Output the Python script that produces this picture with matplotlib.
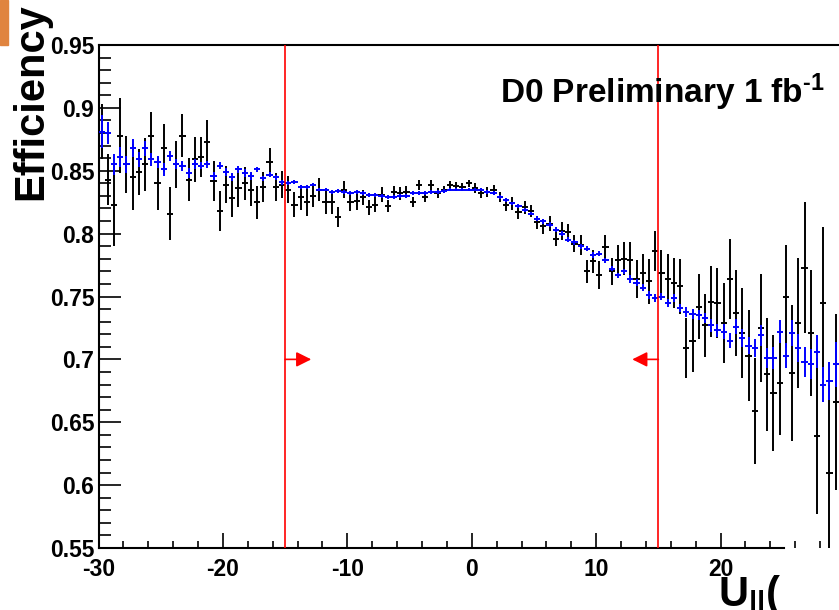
import numpy as np
import matplotlib
matplotlib.use("Agg")
import matplotlib.pyplot as plt
from matplotlib.patches import Rectangle

# ── Data (bins of 0.5 from -30 to 30) ─────────────────────────────────────────
bin_lo, bin_hi, bin_w = -30.0, 30.0, 0.5

eff_data = [
    0.881, 0.843, 0.823, 0.878, 0.855, 0.845, 0.849, 0.855, 0.878, 0.840,
    0.868, 0.816, 0.855, 0.878, 0.843, 0.859, 0.861, 0.873, 0.842, 0.818,
    0.839, 0.828, 0.836, 0.840, 0.835, 0.825, 0.837, 0.857, 0.837, 0.839,
    0.835, 0.823, 0.829, 0.825, 0.830, 0.835, 0.825, 0.825, 0.813, 0.835,
    0.825, 0.826, 0.829, 0.821, 0.823, 0.831, 0.822, 0.833, 0.832, 0.833,
    0.825, 0.839, 0.829, 0.839, 0.832, 0.835, 0.839, 0.838, 0.837, 0.840,
    0.836, 0.832, 0.833, 0.835, 0.829, 0.823, 0.824, 0.817, 0.821, 0.818,
    0.809, 0.806, 0.808, 0.796, 0.802, 0.801, 0.792, 0.791, 0.770, 0.778,
    0.767, 0.789, 0.770, 0.779, 0.780, 0.779, 0.764, 0.769, 0.762, 0.786,
    0.769, 0.764, 0.761, 0.758, 0.709, 0.715, 0.742, 0.727, 0.746, 0.745,
    0.729, 0.764, 0.737, 0.721, 0.703, 0.659, 0.725, 0.688, 0.673, 0.681,
    0.750, 0.689, 0.729, 0.773, 0.721, 0.639, 0.745, 0.610, 0.666, 0.574,
]
err_data = [
    0.022, 0.020, 0.033, 0.030, 0.023, 0.026, 0.018, 0.021, 0.019, 0.021,
    0.019, 0.021, 0.019, 0.017, 0.017, 0.018, 0.016, 0.017, 0.016, 0.016,
    0.015, 0.015, 0.015, 0.013, 0.013, 0.013, 0.012, 0.011, 0.011, 0.011,
    0.011, 0.010, 0.010, 0.011, 0.009, 0.009, 0.009, 0.009, 0.008, 0.007,
    0.007, 0.007, 0.006, 0.006, 0.006, 0.006, 0.005, 0.005, 0.005, 0.005,
    0.004, 0.004, 0.004, 0.004, 0.004, 0.003, 0.003, 0.003, 0.003, 0.003,
    0.004, 0.004, 0.004, 0.004, 0.004, 0.005, 0.005, 0.005, 0.005, 0.005,
    0.005, 0.006, 0.006, 0.006, 0.007, 0.007, 0.007, 0.008, 0.009, 0.009,
    0.011, 0.010, 0.011, 0.012, 0.013, 0.014, 0.015, 0.015, 0.018, 0.016,
    0.018, 0.020, 0.020, 0.022, 0.024, 0.025, 0.026, 0.025, 0.028, 0.028,
    0.032, 0.032, 0.034, 0.036, 0.036, 0.042, 0.043, 0.045, 0.046, 0.041,
    0.041, 0.054, 0.052, 0.052, 0.050, 0.062, 0.060, 0.070, 0.070, 0.060,
]
eff_mc = [
    0.881, 0.880, 0.855, 0.861, 0.855, 0.868, 0.859, 0.868, 0.859, 0.857,
    0.851, 0.862, 0.855, 0.854, 0.848, 0.855, 0.854, 0.855, 0.846, 0.854,
    0.849, 0.845, 0.851, 0.848, 0.846, 0.851, 0.844, 0.847, 0.845, 0.841,
    0.840, 0.841, 0.837, 0.837, 0.839, 0.835, 0.835, 0.833, 0.834, 0.833,
    0.832, 0.833, 0.832, 0.831, 0.831, 0.830, 0.829, 0.829, 0.830, 0.830,
    0.832, 0.832, 0.832, 0.833, 0.833, 0.834, 0.835, 0.835, 0.835, 0.835,
    0.835, 0.835, 0.833, 0.832, 0.829, 0.827, 0.824, 0.822, 0.819, 0.816,
    0.812, 0.810, 0.807, 0.803, 0.800, 0.795, 0.793, 0.790, 0.788, 0.783,
    0.784, 0.779, 0.772, 0.767, 0.770, 0.764, 0.761, 0.757, 0.751, 0.749,
    0.750, 0.745, 0.749, 0.741, 0.738, 0.736, 0.735, 0.733, 0.727, 0.723,
    0.722, 0.715, 0.726, 0.717, 0.711, 0.709, 0.719, 0.701, 0.701, 0.722,
    0.703, 0.721, 0.709, 0.698, 0.696, 0.706, 0.680, 0.683, 0.696, 0.677,
]
err_mc = [
    0.013, 0.009, 0.008, 0.008, 0.007, 0.007, 0.006, 0.006, 0.005, 0.005,
    0.005, 0.004, 0.004, 0.004, 0.004, 0.004, 0.003, 0.003, 0.003, 0.003,
    0.003, 0.003, 0.003, 0.003, 0.003, 0.002, 0.002, 0.002, 0.002, 0.002,
    0.0015, 0.0015, 0.0015, 0.0015, 0.0015, 0.0015, 0.0015, 0.0015, 0.0015, 0.0015,
    0.0015, 0.0015, 0.0015, 0.0015, 0.0015, 0.0015, 0.0015, 0.0015, 0.0015, 0.0015,
    0.0015, 0.0015, 0.0015, 0.0015, 0.0015, 0.0015, 0.0015, 0.0015, 0.0015, 0.0015,
    0.0015, 0.0015, 0.0015, 0.0015, 0.0015, 0.0015, 0.0015, 0.0015, 0.0015, 0.0015,
    0.002, 0.002, 0.002, 0.002, 0.002, 0.002, 0.002, 0.002, 0.002, 0.002,
    0.002, 0.002, 0.002, 0.002, 0.002, 0.003, 0.003, 0.003, 0.003, 0.003,
    0.003, 0.003, 0.003, 0.003, 0.004, 0.004, 0.004, 0.004, 0.005, 0.005,
    0.006, 0.006, 0.006, 0.007, 0.007, 0.007, 0.008, 0.008, 0.009, 0.009,
    0.010, 0.010, 0.011, 0.012, 0.012, 0.013, 0.014, 0.015, 0.018, 0.018,
]

x_major = [-30, -20, -10, 0, 10, 20]
cut_lo, cut_hi = -15, 15
arrow_y = 0.70
arrow_len = 2.1

# ── Style ─────────────────────────────────────────────────────────────────────
plt.rcParams.update({
    'font.family': ['Liberation Sans', 'DejaVu Sans'],
    'font.weight': 'bold',
    'axes.unicode_minus': False,
    'mathtext.fontset': 'custom',
    'mathtext.rm': 'Liberation Sans:bold',
    'mathtext.bf': 'Liberation Sans:bold',
    'mathtext.it': 'Liberation Sans:bold',
    'axes.linewidth': 1.5,
})

fig = plt.figure(figsize=(8.39, 6.10), dpi=100)
# frame goes past the right edge of the picture, like the cropped original
ax = fig.add_axes([98.5 / 839, 62 / 610, (845 - 98.5) / 839, 503 / 610])

centers = np.arange(bin_lo + bin_w / 2, bin_hi, bin_w)

ax.errorbar(centers, eff_data, xerr=bin_w / 2, yerr=err_data, fmt='none',
            ecolor='black', elinewidth=1.4, capsize=0, zorder=2)
ax.errorbar(centers, eff_mc, xerr=bin_w / 2, yerr=err_mc, fmt='none',
            ecolor='#0000ff', elinewidth=1.4, capsize=0, zorder=3)

# cut lines and arrows
for xc in (cut_lo, cut_hi):
    ax.axvline(xc, color='red', lw=1.2, zorder=4)
arrow_style = dict(arrowstyle='-|>,head_length=0.9,head_width=0.45',
                   color='red', lw=1.2, mutation_scale=10,
                   shrinkA=0, shrinkB=0)
ax.annotate('', xy=(cut_lo + arrow_len, arrow_y), xytext=(cut_lo, arrow_y),
            arrowprops=arrow_style, zorder=4)
ax.annotate('', xy=(cut_hi - arrow_len, arrow_y), xytext=(cut_hi, arrow_y),
            arrowprops=arrow_style, zorder=4)

ax.set_xlim(bin_lo, bin_hi)
ax.set_ylim(0.55, 0.95)
ax.set_xticks(x_major)
ax.set_xticks(np.arange(-30, 31, 2), minor=True)
y_major = np.round(np.arange(0.55, 0.951, 0.05), 2)
ax.set_yticks(y_major)
ax.set_yticks(np.arange(0.55, 0.951, 0.01), minor=True)
ax.set_yticklabels([f'{v:g}' for v in y_major])
ax.set_xticklabels([str(v) for v in x_major])
ax.tick_params(axis='both', which='both', direction='in', width=1.2,
               labelsize=16.5)
ax.tick_params(axis='x', which='major', length=10.8, pad=7)
ax.tick_params(axis='x', which='minor', length=5.4)
ax.tick_params(axis='y', which='major', length=15.8, pad=3)
ax.tick_params(axis='y', which='minor', length=8.6)
for lab in ax.get_xticklabels() + ax.get_yticklabels():
    lab.set_fontweight('bold')
ax.spines['bottom'].set_bounds(-30, 25.1)

# texts
fig.text(500 / 839, 1 - 103 / 610, r'D0 Preliminary 1 fb$^{\text{-1}}$',
         fontsize=24, fontweight='bold', ha='left', va='baseline')
fig.text(31 / 839, 1 - 102 / 610, 'Efficiency', rotation=90,
         fontsize=30, fontweight='bold', ha='center', va='center')
fig.text(718 / 839, 1 - 606 / 610, 'U$_{||}$(', fontsize=30,
         fontweight='bold', ha='left', va='baseline')

# small orange strip at top-left corner
fig.patches.append(Rectangle((0, 1 - 45 / 610), 8 / 839, 45 / 610,
                             transform=fig.transFigure, color='#e0843f',
                             zorder=0))

fig.savefig('out.png', dpi=100)
